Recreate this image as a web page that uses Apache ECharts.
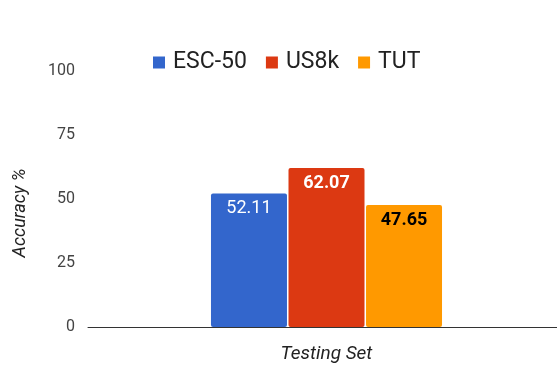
<!DOCTYPE html>
<html><head><meta charset="utf-8">
<script src="https://cdn.jsdelivr.net/npm/echarts@6/dist/echarts.min.js"></script>
<style>html,body{margin:0;padding:0;background:#fff}#c{width:557px;height:369px}</style>
</head><body><div id="c"></div>
<script>
const categories = [''];
const seriesNames = ['ESC-50', 'US8k', 'TUT'];
const esc50 = [52.11];
const us8k = [62.07];
const tut = [47.65];
const yTicks = [0, 25, 50, 75, 100];
const xTitle = 'Testing Set';
const yTitle = 'Accuracy %';

const colors = ['#3366cc', '#dc3912', '#ff9900'];
const labelStyles = [
  {color: '#ffffff', fontWeight: 'normal'},
  {color: '#ffffff', fontWeight: 'bold'},
  {color: '#000000', fontWeight: 'bold'}
];
const values = [esc50, us8k, tut];

const chart = echarts.init(document.getElementById('c'), null, {renderer: 'canvas'});
chart.setOption({
  animation: false,
  textStyle: {fontFamily: 'Roboto'},
  legend: {
    top: 46, left: 148,
    itemWidth: 12, itemHeight: 12, itemGap: 19,
    icon: 'rect',
    textStyle: {fontSize: 23, color: '#222', fontFamily: 'Roboto', padding: [0, 0, 0, 3]},
    data: seriesNames
  },
  grid: {left: 88, width: 477, top: 71, bottom: 42, containLabel: false, outerBoundsMode: 'none'},
  xAxis: {
    type: 'category', data: categories,
    axisTick: {show: false}, axisLabel: {show: false},
    axisLine: {lineStyle: {color: '#333', width: 1}},
    name: xTitle, nameLocation: 'middle', nameGap: 18,
    nameTextStyle: {fontSize: 19, fontStyle: 'italic', color: '#222', fontFamily: 'Roboto'}
  },
  yAxis: {
    type: 'value', min: yTicks[0], max: yTicks[yTicks.length - 1], interval: 25,
    axisLine: {show: false}, axisTick: {show: false},
    splitLine: {show: false},
    axisLabel: {fontSize: 16, color: '#444', margin: 13, fontFamily: 'Roboto'}
  },
  graphic: [{
    type: 'text', x: 20, y: 213, rotation: Math.PI / 2,
    style: {text: yTitle, font: 'italic 18px Roboto', fill: '#222', align: 'center', verticalAlign: 'middle'}
  }],
  series: seriesNames.map((n, i) => ({
    name: n, type: 'bar', data: values[i],
    barWidth: 76, barGap: '2%',
    itemStyle: {color: colors[i], borderRadius: 2},
    label: {
      show: true, position: 'insideTop', distance: 6,
      fontSize: 18, fontFamily: 'Roboto',
      color: labelStyles[i].color, fontWeight: labelStyles[i].fontWeight,
      formatter: p => p.value.toFixed(2)
    }
  }))
});
</script></body></html>
